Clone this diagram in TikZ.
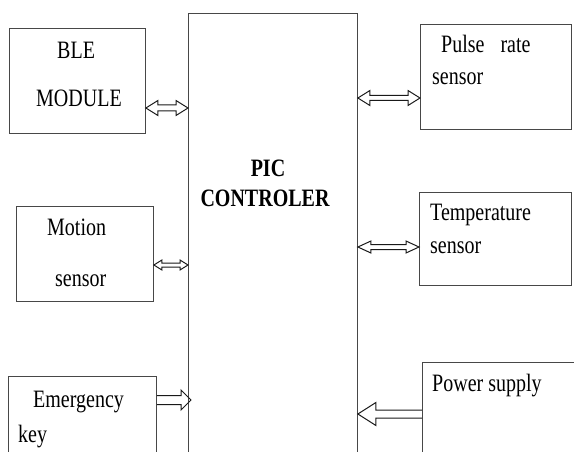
\documentclass[tikz,border=0pt]{standalone}
\usepackage{fontspec}
\setmainfont[FakeStretch=0.8]{Liberation Serif}
\usetikzlibrary{calc}
\tikzset{
  box/.style={draw=black!72, line width=0.9pt, rectangle, inner sep=0pt, anchor=north west},
  lbl/.style={anchor=base west, inner sep=0pt, font=\fontsize{25}{30}\selectfont},
  blbl/.style={anchor=base, inner sep=0pt, font=\fontsize{25}{30}\selectfont\bfseries},
  arr/.style={draw=black!90, line width=1pt, line join=miter},
}
% #1 tail, #2 tip, #3 head length, #4 head half width, #5 shaft half width
\newcommand\onearrow[5]{%
  \path[arr] let \p1=(#1), \p2=(#2), \p3=($(#2)!#3pt!(#1)$) in
    (\x1,\y1+#5pt) -- (\x3,\y1+#5pt) -- (\x3,\y1+#4pt) -- (\x2,\y2)
    -- (\x3,\y1-#4pt) -- (\x3,\y1-#5pt) -- (\x1,\y1-#5pt);}
\newcommand\twoarrow[5]{%
  \path[arr] let \p1=(#1), \p2=(#2), \p3=($(#2)!#3pt!(#1)$), \p4=($(#1)!#3pt!(#2)$) in
    (\x1,\y1) -- (\x4,\y1+#4pt) -- (\x4,\y1+#5pt) -- (\x3,\y1+#5pt) -- (\x3,\y1+#4pt)
    -- (\x2,\y2) -- (\x3,\y1-#4pt) -- (\x3,\y1-#5pt) -- (\x4,\y1-#5pt) -- (\x4,\y1-#4pt) -- cycle;}
\begin{document}
\begin{tikzpicture}[x=1pt,y=-1pt]
\useasboundingbox (0,0) rectangle (574,452);
\clip (0,0) rectangle (574,452);
% boxes
\node[box, minimum width=136pt, minimum height=105pt] (ble) at (9,28) {};
\node[box, minimum width=137pt, minimum height=95pt] (mot) at (16,206) {};
\node[box, minimum width=148pt, minimum height=110pt] (emg) at (8,376) {};
\node[box, minimum width=169pt, minimum height=470pt] (pic) at (188,13) {};
\node[box, minimum width=151pt, minimum height=105pt] (pul) at (420,24) {};
\node[box, minimum width=152pt, minimum height=93pt] (tmp) at (419,192) {};
\node[box, minimum width=170pt, minimum height=110pt] (pwr) at (422,362) {};
% labels
\node[lbl] (t1) at (57,59) {BLE};
\node[lbl] (t2) at (36,107) {MODULE};
\node[lbl] (t3) at (441,53) {Pulse\hspace{16pt}rate};
\node[lbl] (t4) at (432,85) {sensor};
\node[lbl] (t5) at (47,236) {Motion};
\node[lbl] (t6) at (55,286) {sensor};
\node[lbl] (t7) at (430,221) {Temperature};
\node[lbl] (t8) at (430,253) {sensor};
\node[lbl] (t9) at (33,407) {Emergency};
\node[lbl] (t10) at (18,442) {key};
\node[lbl] (t11) at (432,391) {Power supply};
\node[blbl] (t12) at (268,176) {PIC};
\node[blbl] (t13) at (265,207) {CONTROLER};
% arrow end points
\coordinate (a1) at (ble.east |- 0,108);
\coordinate (b1) at (pic.west |- 0,108);
\coordinate (a2) at (mot.east |- 0,265);
\coordinate (b2) at (pic.west |- 0,265);
\coordinate (a3) at (emg.east |- 0,400);
\coordinate (b3) at (191,400);
\coordinate (a4) at (pic.east |- 0,98);
\coordinate (b4) at (pul.west |- 0,98);
\coordinate (a5) at (pic.east |- 0,247);
\coordinate (b5) at (tmp.west |- 0,247);
\coordinate (a6) at (pwr.west |- 0,414);
\coordinate (b6) at (pic.east |- 0,414);
% arrows
\twoarrow{a1}{b1}{12}{7.5}{3}
\twoarrow{a2}{b2}{8}{5}{2}
\onearrow{a3}{b3}{10}{10}{4.5}
\twoarrow{a4}{b4}{12}{7.5}{2.5}
\twoarrow{a5}{b5}{13}{6}{2.5}
\onearrow{a6}{b6}{18}{11.5}{4}
\end{tikzpicture}
\end{document}
